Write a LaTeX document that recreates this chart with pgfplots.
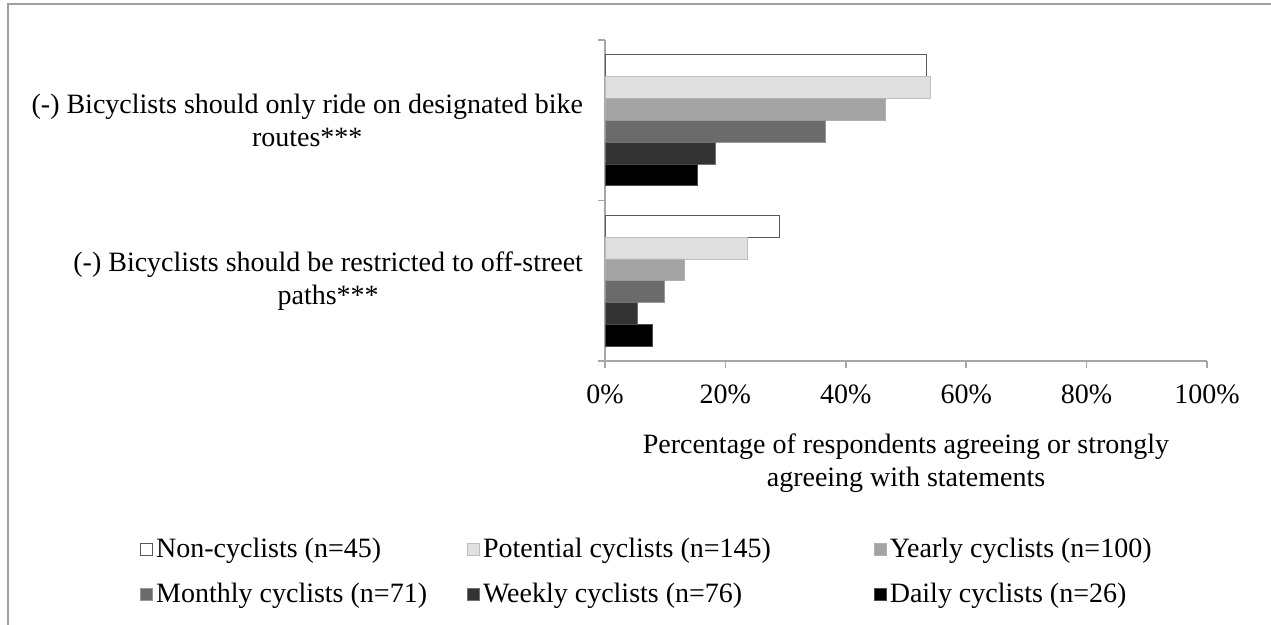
\documentclass[border=0pt]{standalone}
\usepackage{fontspec}
\setmainfont{Liberation Serif}
\usepackage{pgfplots}
\pgfplotsset{compat=1.18}
\definecolor{axgray}{HTML}{A6A6A6}
\definecolor{fr}{HTML}{A0A0A0}
\definecolor{cNon}{HTML}{FFFFFF}
\definecolor{cPot}{HTML}{E0E0E0}
\definecolor{cYea}{HTML}{A3A3A3}
\definecolor{cMon}{HTML}{6B6B6B}
\definecolor{cWee}{HTML}{333333}
\definecolor{cDai}{HTML}{000000}
\newcommand{\lbl}{\fontsize{14bp}{16.5bp}\selectfont}
\begin{document}
\begin{tikzpicture}
\useasboundingbox (0,0) rectangle (635.5bp,312.5bp);
\draw[fr, line width=1bp] (4bp,0) -- (4bp,310.5bp) -- (635.5bp,310.5bp);
\begin{axis}[
  at={(302.5bp,132bp)}, anchor=south west,
  scale only axis, width=301bp, height=160.5bp,
  xbar, bar width=0.136,
  xmin=0, xmax=100, ymin=-0.5, ymax=1.5, y dir=reverse,
  axis lines*=left,
  axis line style={axgray, line width=0.75bp},
  tick align=outside, major tick length=3.5bp,
  xtick={0,20,40,60,80,100},
  xticklabels={0\%,20\%,40\%,60\%,80\%,100\%},
  xtick style={axgray, line width=0.75bp},
  xticklabel style={font=\lbl, yshift=-5bp},
  ytick={0,1},
  yticklabels={{(-) Bicyclists should only ride on designated bike\\routes***},
               {(-) Bicyclists should be restricted to off-street\\paths***}},
  ytick style={draw=none},
  yticklabel style={font=\lbl, align=center, xshift=-4bp},
  extra y ticks={-0.5,0.5,1.5},
  extra y tick labels={},
  extra y tick style={ytick style={draw=axgray, line width=0.75bp}},
  xlabel={Percentage of respondents agreeing or strongly\\agreeing with statements},
  xlabel style={font=\lbl, align=center, at={(axis description cs:0.5,-0.224)},
    anchor=north, inner sep=0pt},
  legend columns=3,
  legend cell align=left,
  legend style={at={(-0.7724,-0.542)}, anchor=north west, draw=none, fill=none,
    font=\lbl, inner sep=0pt, row sep=8bp,
    nodes={inner sep=1.5bp}},
  legend image code/.code={\draw[#1, line width=0.4bp] (0bp,-3bp) rectangle (6bp,3bp);},
]
\addplot[bar shift=-0.34, fill=cNon, draw=black!65, line width=0.5bp]
  coordinates {(53.4,0) (29.0,1)};
\addlegendentry{\makebox[154bp][l]{Non-cyclists (n=45)}}
\addplot[bar shift=-0.204, fill=cPot, draw=cPot!85!black, line width=0.4bp]
  coordinates {(54.1,0) (23.6,1)};
\addlegendentry{\makebox[194bp][l]{Potential cyclists (n=145)}}
\addplot[bar shift=-0.068, fill=cYea, draw=cYea!85!white, line width=0.4bp]
  coordinates {(46.5,0) (13.2,1)};
\addlegendentry{Yearly cyclists (n=100)}
\addplot[bar shift=0.068, fill=cMon, draw=cMon!70!white, line width=0.4bp]
  coordinates {(36.6,0) (9.9,1)};
\addlegendentry{\makebox[154bp][l]{Monthly cyclists (n=71)}}
\addplot[bar shift=0.204, fill=cWee, draw=cWee!70!white, line width=0.4bp]
  coordinates {(18.4,0) (5.3,1)};
\addlegendentry{\makebox[194bp][l]{Weekly cyclists (n=76)}}
\addplot[bar shift=0.34, fill=cDai, draw=cDai!70!white, line width=0.4bp]
  coordinates {(15.4,0) (7.8,1)};
\addlegendentry{Daily cyclists (n=26)}
\end{axis}
\end{tikzpicture}
\end{document}
